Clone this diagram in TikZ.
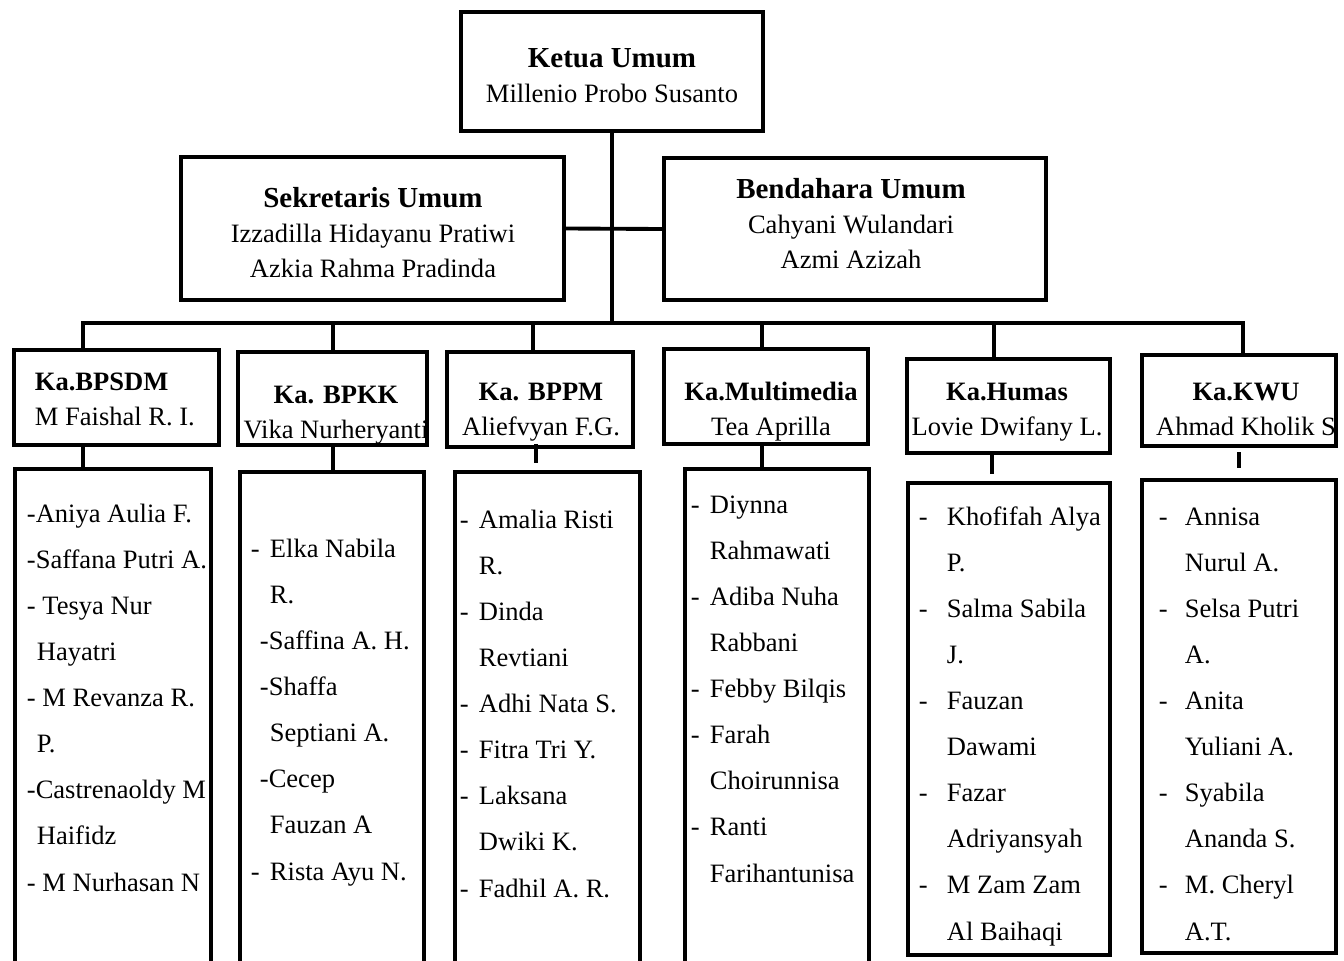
\documentclass[tikz,border=0pt]{standalone}
\usepackage{fontspec}
\setmainfont{Liberation Serif}
\usetikzlibrary{positioning}
\newlength{\pxu}
\setlength{\pxu}{0.02cm}
\newcommand{\itm}[1]{\makebox[#1\pxu][l]{-}}
\newcommand{\indt}[1]{\hspace*{#1\pxu}}
\newcommand{\ttl}[1]{{\fontsize{16.5pt}{19.9pt}\selectfont\bfseries #1}}
\tikzset{
    box/.style={draw, rectangle, inner sep=0pt},
    wh/.style 2 args={minimum width=#1\pxu, minimum height=#2\pxu},
    toptext/.style={align=center, inner sep=0pt, anchor=base, font=\fontsize{15.1pt}{19.9pt}\selectfont},
    list/.style={align=left, inner sep=0pt, anchor=base west, font=\fontsize{15.1pt}{26.2pt}\selectfont}
}

\begin{document}
\begin{tikzpicture}[x=0.02cm, y=-0.02cm, line width=2.2pt]
    \useasboundingbox (0,0) rectangle (1344,960);
    \clip (0,0) rectangle (1344,960);
    % pengurus inti (text nodes sit on their last baseline)
    \node [box, wh={302}{119}] (ketua) at (612,71.5) {};
    \node [toptext] (ketuaT) at (612,102) {\ttl{Ketua Umum}\\Millenio Probo Susanto};
    \node [box, wh={383}{143}] (sekre) at (372.5,228.5) {};
    \node [toptext] (sekreT) at (373,277) {\ttl{Sekretaris Umum}\\Izzadilla Hidayanu Pratiwi\\Azkia Rahma Pradinda};
    \node [box, wh={382}{142}] (benda) at (855,229) {};
    \node [toptext] (bendaT) at (851,268) {\ttl{Bendahara Umum}\\Cahyani Wulandari\\Azmi Azizah};
    % kepala bidang
    \node [box, wh={205}{95}] (bpsdm) at (116.5,397.5) {};
    \node [toptext, align=left, anchor=base west] (bpsdmT) at (33,425) {\textbf{Ka.BPSDM}\\M Faishal R. I.};
    \node [box, wh={189}{93}] (bpkk) at (332.5,398.5) {};
    \node [toptext] (bpkkT) at (336,438) {\textbf{Ka. BPKK}\\Vika Nurheryanti};
    \node [box, wh={186}{95}] (bppm) at (540,399.5) {};
    \node [toptext] (bppmT) at (541,435) {\textbf{Ka. BPPM}\\Aliefvyan F.G.};
    \node [box, wh={204}{95}] (mm) at (766,396.5) {};
    \node [toptext] (mmT) at (771,435) {\textbf{Ka.Multimedia}\\Tea Aprilla};
    \node [box, wh={203}{94}] (humas) at (1008.5,406) {};
    \node [toptext] (humasT) at (1007,435) {\textbf{Ka.Humas}\\Lovie Dwifany L.};
    \node [box, wh={194}{91}] (kwu) at (1239,400.5) {};
    \node [toptext] (kwuT) at (1246,435) {\textbf{Ka.KWU}\\Ahmad Kholik S};
    % anggota
    \node [box, wh={196}{516}] (m1) at (113,727) {};
    \node [box, wh={184}{513}] (m2) at (332,728.5) {};
    \node [box, wh={185}{513}] (m3) at (547.5,728.5) {};
    \node [box, wh={184}{516}] (m4) at (777,727) {};
    \node [box, wh={202}{472}] (m5) at (1009,719) {};
    \node [box, wh={194}{473}] (m6) at (1239,716.5) {};
    \node [list] (l1) at (25,891) {-Aniya Aulia F.\\-Saffana Putri A.\\- Tesya Nur\\\indt{10}Hayatri\\- M Revanza R.\\\indt{10}P.\\-Castrenaoldy M\\\indt{10}Haifidz\\- M Nurhasan N};
    \node [list] (l2) at (249,880) {\itm{19}Elka Nabila\\\indt{19}R.\\\indt{9}-Saffina A. H.\\\indt{9}-Shaffa\\\indt{19}Septiani A.\\\indt{9}-Cecep\\\indt{19}Fauzan A\\\itm{19}Rista Ayu N.};
    \node [list] (l3) at (458,897) {\itm{19}Amalia Risti\\\indt{19}R.\\\itm{19}Dinda\\\indt{19}Revtiani\\\itm{19}Adhi Nata S.\\\itm{19}Fitra Tri Y.\\\itm{19}Laksana\\\indt{19}Dwiki K.\\\itm{19}Fadhil A. R.};
    \node [list] (l4) at (689,882) {\itm{19}Diynna\\\indt{19}Rahmawati\\\itm{19}Adiba Nuha\\\indt{19}Rabbani\\\itm{19}Febby Bilqis\\\itm{19}Farah\\\indt{19}Choirunnisa\\\itm{19}Ranti\\\indt{19}Farihantunisa};
    \node [list] (l5) at (917,940) {\itm{28}Khofifah Alya\\\indt{28}P.\\\itm{28}Salma Sabila\\\indt{28}J.\\\itm{28}Fauzan\\\indt{28}Dawami\\\itm{28}Fazar\\\indt{28}Adriyansyah\\\itm{28}M Zam Zam\\\indt{28}Al Baihaqi};
    \node [list] (l6) at (1157,940) {\itm{26}Annisa\\\indt{26}Nurul A.\\\itm{26}Selsa Putri\\\indt{26}A.\\\itm{26}Anita\\\indt{26}Yuliani A.\\\itm{26}Syabila\\\indt{26}Ananda S.\\\itm{26}M. Cheryl\\\indt{26}A.T.};
    % garis
    \coordinate (busL) at (83,323);
    \coordinate (busR) at (1243,323);
    \draw (ketua.south) -- (ketua.south |- busL);
    \draw (sekre.east) -- (benda.west);
    \draw (busL |- bpsdm.north) -- (busL) -- (busR) -- (busR |- kwu.north);
    \foreach \n/\x in {bpkk/333, bppm/533, mm/762, humas/994} {
        \coordinate (j\n) at (\x,323);
        \draw (j\n) -- (j\n |- \n.north);
    }
    \draw (busL |- bpsdm.south) -- (busL |- m1.north);
    \draw (jbpkk |- bpkk.south) -- (jbpkk |- m2.north);
    \coordinate (s3a) at (536,444);
    \coordinate (s3b) at (536,463);
    \draw (s3a) -- (s3b);
    \draw (jmm |- mm.south) -- (jmm |- m4.north);
    \coordinate (s5) at (992,474);
    \draw (s5 |- humas.south) -- (s5);
    \coordinate (s6a) at (1239,452);
    \coordinate (s6b) at (1239,468);
    \draw (s6a) -- (s6b);
\end{tikzpicture}
\end{document}
